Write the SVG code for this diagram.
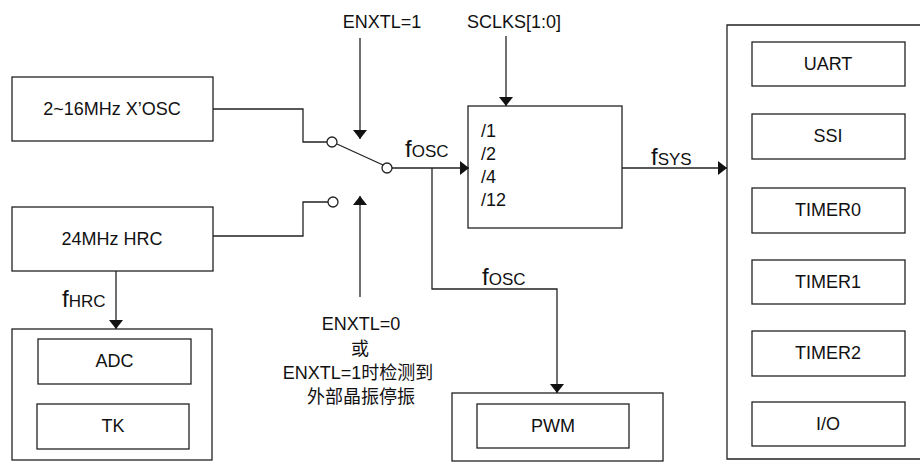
<svg xmlns="http://www.w3.org/2000/svg" width="920" height="462" viewBox="0 0 920 462">
<defs>
<style>
.b{fill:#fff;stroke:#222;stroke-width:1.3}
.c{fill:none;stroke:#222;stroke-width:1.3}
.t{font-family:"Liberation Sans",Arial,sans-serif;font-size:18px;fill:#111}
.m{text-anchor:middle}
.cj{font-family:"Liberation Sans","Noto Sans CJK SC",sans-serif;font-size:18px;fill:#111;text-anchor:middle}
.f{font-family:"Liberation Sans",Arial,sans-serif;font-size:24px;fill:#111}
.s{font-size:17px}
</style>
<marker id="ah" markerUnits="userSpaceOnUse" markerWidth="10" markerHeight="14" refX="9" refY="7" orient="auto">
<path d="M0,0 L9,7 L0,14 z" fill="#111"/>
</marker>
</defs>
<rect width="920" height="462" fill="#fff"/>

<g id="xosc">
<rect class="b" x="12" y="77" width="201" height="64"/>
<text class="t m" x="112" y="115">2~16MHz X’OSC</text>
</g>
<g id="hrc">
<rect class="b" x="12" y="207" width="201" height="64"/>
<text class="t m" x="112" y="245">24MHz HRC</text>
</g>
<g id="adc-tk">
<rect class="b" x="12" y="329" width="200" height="131"/>
<rect class="b" x="38" y="339" width="153" height="45"/>
<text class="t m" x="114.5" y="367">ADC</text>
<rect class="b" x="37" y="404" width="152" height="45"/>
<text class="t m" x="113" y="432">TK</text>
</g>
<g id="switch">
<circle class="b" cx="332" cy="142" r="5"/>
<circle class="b" cx="387" cy="168" r="5"/>
<circle class="b" cx="333" cy="202" r="5"/>
<line class="c" x1="337" y1="144" x2="383" y2="165"/>
</g>
<g id="divider">
<rect class="b" x="468" y="106" width="154" height="122"/>
<text class="t" x="481" y="137">/1</text>
<text class="t" x="481" y="160">/2</text>
<text class="t" x="481" y="183">/4</text>
<text class="t" x="481" y="206">/12</text>
</g>
<g id="pwm">
<rect class="b" x="452" y="393" width="211" height="68"/>
<rect class="b" x="477" y="404" width="152" height="44"/>
<text class="t m" x="553" y="432">PWM</text>
</g>
<g id="peripherals">
<path class="c" d="M925,25 H727 V459 H925"/>
<rect class="b" x="752" y="42" width="153" height="44"/>
<text class="t m" x="828" y="70">UART</text>
<rect class="b" x="752" y="114" width="153" height="45"/>
<text class="t m" x="828" y="142">SSI</text>
<rect class="b" x="752" y="188" width="153" height="45"/>
<text class="t m" x="828" y="216">TIMER0</text>
<rect class="b" x="752" y="260" width="153" height="44"/>
<text class="t m" x="828" y="288">TIMER1</text>
<rect class="b" x="752" y="331" width="153" height="45"/>
<text class="t m" x="828" y="359">TIMER2</text>
<rect class="b" x="752" y="402" width="153" height="44"/>
<text class="t m" x="828" y="430">I/O</text>
</g>

<g id="connectors">
<polyline class="c" points="213,109 303,109 303,142 327,142"/>
<polyline class="c" points="213,236 303,236 303,202 328,202"/>
<line class="c" x1="392" y1="168" x2="469" y2="168" marker-end="url(#ah)"/>
<line class="c" x1="360" y1="38" x2="360" y2="139" marker-end="url(#ah)"/>
<line class="c" x1="360" y1="297" x2="360" y2="196" marker-end="url(#ah)"/>
<line class="c" x1="506" y1="36" x2="506" y2="106" marker-end="url(#ah)"/>
<line class="c" x1="622" y1="168" x2="727" y2="168" marker-end="url(#ah)"/>
<polyline class="c" points="432,168 432,289 557,289 557,393" marker-end="url(#ah)"/>
<line class="c" x1="116" y1="271" x2="116" y2="329" marker-end="url(#ah)"/>
</g>

<g id="labels">
<text class="t m" x="382" y="28">ENXTL=1</text>
<text class="t m" x="514" y="28">SCLKS[1:0]</text>
<text class="f" x="405" y="157">f<tspan class="s">OSC</tspan></text>
<text class="f" x="651" y="165">f<tspan class="s">SYS</tspan></text>
<text class="f" x="482" y="285">f<tspan class="s">OSC</tspan></text>
<text class="f" x="62" y="307">f<tspan class="s">HRC</tspan></text>
<text class="cj" x="361" y="330">ENXTL=0</text>
<text class="cj" x="360" y="355">或</text>
<text class="cj" x="358" y="379">ENXTL=1时检测到</text>
<text class="cj" x="361" y="403">外部晶振停振</text>
</g>
</svg>
